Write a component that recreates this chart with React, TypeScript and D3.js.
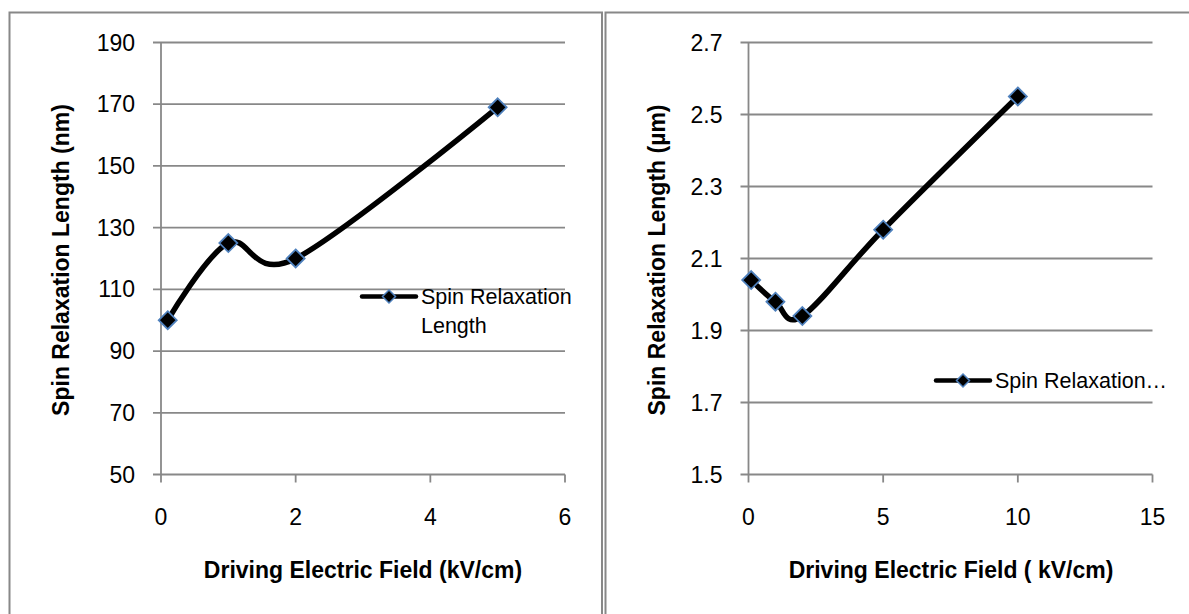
import React from "react";
import * as d3 from "d3";

const leftX = [0.1, 1, 2, 5];
const leftY = [100, 125, 120, 169];
const leftXTicks = [0, 2, 4, 6];
const leftYTicks = [50, 70, 90, 110, 130, 150, 170, 190];

const rightX = [0.1, 1, 2, 5, 10];
const rightY = [2.04, 1.98, 1.94, 2.18, 2.55];
const rightXTicks = [0, 5, 10, 15];
const rightYTicks = [1.5, 1.7, 1.9, 2.1, 2.3, 2.5, 2.7];

const GRID = "#888888";
const FONT = "'Liberation Sans', Arial, sans-serif";
const MARK = "#4F81BD";

type PanelProps = {
  xs: number[];
  ys: number[];
  xTicks: number[];
  yTicks: number[];
  xDomain: [number, number];
  yDomain: [number, number];
  xRange: [number, number];
  yRange: [number, number];
  yFmt: (v: number) => string;
  xTitle: string;
  yTitle: string;
  xTitleX: number;
  yTitleX: number;
  legendLines: string[];
  legendX: number;
  legendY: number;
};

function diamond(cx: number, cy: number, r: number) {
  return `M${cx},${cy - r}L${cx + r},${cy}L${cx},${cy + r}L${cx - r},${cy}Z`;
}

function Panel(p: PanelProps) {
  const x = d3.scaleLinear().domain(p.xDomain).range(p.xRange);
  const y = d3.scaleLinear().domain(p.yDomain).range(p.yRange);
  const pts: [number, number][] = p.xs.map((v, i) => [x(v), y(p.ys[i])]);
  const line = d3.line().curve(d3.curveCardinal.tension(0))(pts) || "";
  const x0 = p.xRange[0];
  const x1 = p.xRange[1];
  const yb = p.yRange[0];
  const yt = p.yRange[1];
  return (
    <g>
      {p.yTicks.map((t) => (
        <g key={"y" + t}>
          <line x1={x0 - 8} x2={x1} y1={y(t)} y2={y(t)} stroke={GRID} strokeWidth={1.8} />
          <text x={x0 - 26} y={y(t) + 8} textAnchor="end" fontSize={23} fontFamily={FONT} fill="#000">
            {p.yFmt(t)}
          </text>
        </g>
      ))}
      <line x1={x0} x2={x0} y1={yt} y2={yb} stroke={GRID} strokeWidth={1.8} />
      {p.xTicks.map((t) => (
        <g key={"x" + t}>
          <line x1={x(t)} x2={x(t)} y1={yb} y2={yb + 8} stroke={GRID} strokeWidth={1.8} />
          <text x={x(t)} y={525} textAnchor="middle" fontSize={23} fontFamily={FONT} fill="#000">
            {t}
          </text>
        </g>
      ))}
      <path d={line} fill="none" stroke="#000" strokeWidth={5.5} strokeLinecap="round" />
      {pts.map(([px, py], i) => (
        <path key={i} d={diamond(px, py, 9)} fill="#000" stroke={MARK} strokeWidth={1.8} />
      ))}
      <text x={p.xTitleX} y={578} textAnchor="middle" fontSize={23} fontWeight="bold" fontFamily={FONT} fill="#000">
        {p.xTitle}
      </text>
      <text
        transform={`translate(${p.yTitleX},260) rotate(-90)`}
        textAnchor="middle"
        dominantBaseline="central"
        fontSize={23}
        fontWeight="bold"
        fontFamily={FONT}
        fill="#000"
      >
        {p.yTitle}
      </text>
      <line x1={p.legendX} x2={p.legendX + 54} y1={p.legendY} y2={p.legendY} stroke="#000" strokeWidth={4.5} strokeLinecap="round" />
      <path d={diamond(p.legendX + 27, p.legendY, 6.5)} fill="#000" stroke={MARK} strokeWidth={1.5} />
      {p.legendLines.map((s, i) => (
        <text key={i} x={p.legendX + 59} y={p.legendY + 7 + i * 29} fontSize={21.5} fontFamily={FONT} fill="#000">
          {s}
        </text>
      ))}
    </g>
  );
}

export default function App() {
  return (
    <svg width={1189} height={614} style={{ position: "absolute", left: 0, top: 0, background: "#fff" }}>
      <rect x={0} y={0} width={1189} height={614} fill="#fff" />
      <path d="M9.5,630V12.5H602V630" fill="none" stroke={GRID} strokeWidth={2} />
      <path d="M605.5,630V12.5H1200" fill="none" stroke={GRID} strokeWidth={2} />
      <Panel
        xs={leftX}
        ys={leftY}
        xTicks={leftXTicks}
        yTicks={leftYTicks}
        xDomain={[0, 6]}
        yDomain={[50, 190]}
        xRange={[161, 565]}
        yRange={[474.5, 42.5]}
        yFmt={(v) => String(v)}
        xTitle="Driving Electric Field (kV/cm)"
        yTitle="Spin Relaxation Length (nm)"
        xTitleX={363}
        yTitleX={61}
        legendLines={["Spin Relaxation", "Length"]}
        legendX={362}
        legendY={296.5}
      />
      <Panel
        xs={rightX}
        ys={rightY}
        xTicks={rightXTicks}
        yTicks={rightYTicks}
        xDomain={[0, 15]}
        yDomain={[1.5, 2.7]}
        xRange={[748.5, 1152.5]}
        yRange={[474.5, 42.5]}
        yFmt={(v) => v.toFixed(1)}
        xTitle="Driving Electric Field ( kV/cm)"
        yTitle="Spin Relaxation Length (µm)"
        xTitleX={951}
        yTitleX={657}
        legendLines={["Spin Relaxation…"]}
        legendX={936}
        legendY={380.5}
      />
    </svg>
  );
}
